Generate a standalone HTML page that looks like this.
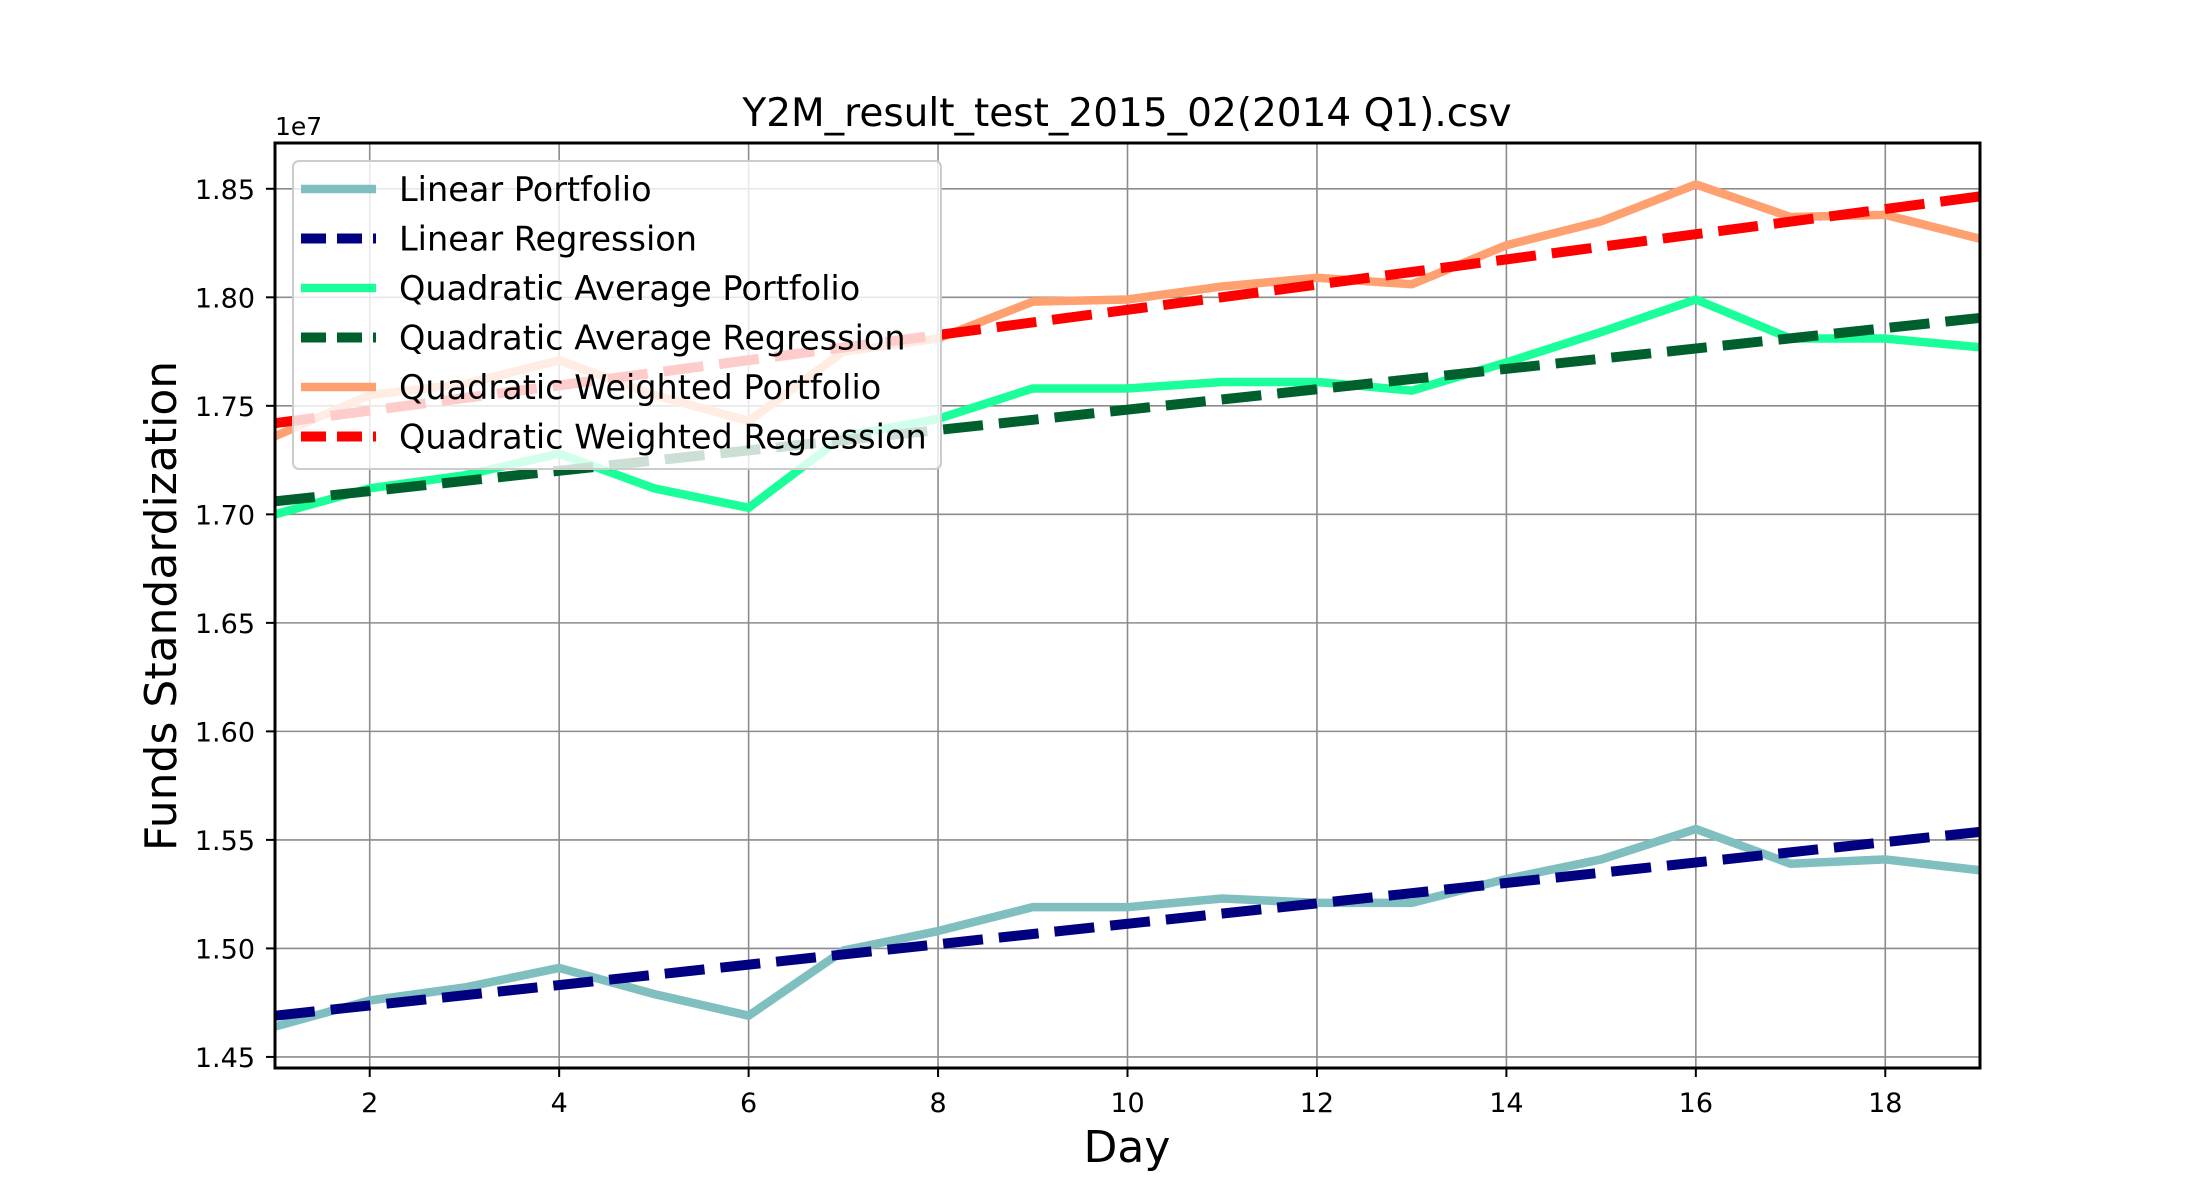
<!DOCTYPE html>
<html><head><meta charset="utf-8"><style>
html,body{margin:0;padding:0;background:#fff;}
svg{display:block;font-family:"DejaVu Sans","Liberation Sans",sans-serif;}
</style></head><body>
<svg id="chart" width="2200" height="1200" viewBox="0 0 2200 1200" xmlns="http://www.w3.org/2000/svg">
<rect width="2200" height="1200" fill="#fff"/>
<g id="grid"></g>
<g id="series"></g>
<g id="axes"></g>
<text x="1127" y="126" font-size="39" text-anchor="middle">Y2M_result_test_2015_02(2014 Q1).csv</text>
<text x="275" y="135" font-size="25">1e7</text>
<text x="1127" y="1162" font-size="44" text-anchor="middle">Day</text>
<text transform="translate(176,606) rotate(-90)" font-size="44" text-anchor="middle">Funds Standardization</text>
<g id="legend"></g>
</svg>
<script>
const days = [1,2,3,4,5,6,7,8,9,10,11,12,13,14,15,16,17,18,19];
const linearPortfolio = [1.464,1.476,1.482,1.491,1.479,1.469,1.499,1.508,1.519,1.519,1.523,1.521,1.521,1.532,1.541,1.555,1.539,1.541,1.536];
const linearRegression = [1.469,1.5537];
const quadAvgPortfolio = [1.700,1.712,1.718,1.728,1.712,1.703,1.736,1.744,1.758,1.758,1.761,1.761,1.757,1.770,1.784,1.799,1.781,1.781,1.777];
const quadAvgRegression = [1.706,1.7905];
const quadWeightedPortfolio = [1.736,1.755,1.760,1.771,1.755,1.743,1.775,1.781,1.798,1.799,1.805,1.809,1.806,1.824,1.835,1.852,1.837,1.838,1.827];
const quadWeightedRegression = [1.742,1.8465];
const xTicks = [2,4,6,8,10,12,14,16,18];
const yTicks = [1.45,1.50,1.55,1.60,1.65,1.70,1.75,1.80,1.85];
const yTickLabels = ["1.45","1.50","1.55","1.60","1.65","1.70","1.75","1.80","1.85"];
const legendLabels = ["Linear Portfolio","Linear Regression","Quadratic Average Portfolio","Quadratic Average Regression","Quadratic Weighted Portfolio","Quadratic Weighted Regression"];

const NS="http://www.w3.org/2000/svg";
const L=275,R=1980,T=143,B=1068;
const X0=1,X1=19,Y0=1.4449,Y1=1.8711;
const xs=v=>L+(v-X0)/(X1-X0)*(R-L);
const ys=v=>B-(v-Y0)/(Y1-Y0)*(B-T);
function mk(tag,attrs,parent){const e=document.createElementNS(NS,tag);for(const k in attrs)e.setAttribute(k,attrs[k]);parent.appendChild(e);return e;}
const grid=document.getElementById('grid'),axes=document.getElementById('axes'),series=document.getElementById('series'),legend=document.getElementById('legend');

xTicks.forEach(t=>{
  const x=xs(t);
  const g=mk('line',{x1:x,x2:x,y1:T,y2:B,stroke:'#8c8c8c','stroke-width':1.6},grid);
  
  
  const tk=mk('line',{x1:x,x2:x,y1:B,y2:B+9,stroke:'#000','stroke-width':2},axes);
  
  
  const tx=mk('text',{x:x,y:B+44,'font-size':27,'text-anchor':'middle'},axes);
  tx.textContent=t;
  
  
});
yTicks.forEach((t,i)=>{
  const y=ys(t);
  const g=mk('line',{x1:L,x2:R,y1:y,y2:y,stroke:'#8c8c8c','stroke-width':1.6},grid);
  
  
  const tk=mk('line',{x1:L-9,x2:L,y1:y,y2:y,stroke:'#000','stroke-width':2},axes);
  
  
  const tx=mk('text',{x:L-20,y:y+10,'font-size':27,'text-anchor':'end'},axes);
  tx.textContent=yTickLabels[i];
  
  
});
const frame=mk('rect',{x:L,y:T,width:R-L,height:B-T,fill:'none',stroke:'#000','stroke-width':3},axes);



const defs=[
 {vals:linearPortfolio,color:'#80bfbf',dash:null,name:'linear-portfolio-line'},
 {vals:linearRegression,color:'#000080',dash:'40 16',name:'linear-regression-line'},
 {vals:quadAvgPortfolio,color:'#1aff99',dash:null,name:'quadratic-average-portfolio-line'},
 {vals:quadAvgRegression,color:'#00602d',dash:'40 16',name:'quadratic-average-regression-line'},
 {vals:quadWeightedPortfolio,color:'#ffa070',dash:null,name:'quadratic-weighted-portfolio-line'},
 {vals:quadWeightedRegression,color:'#ff0000',dash:'40 16',name:'quadratic-weighted-regression-line'}
];
defs.forEach(d=>{
  let pts;
  if(d.vals.length===2){pts=[[xs(days[0]),ys(d.vals[0])],[xs(days[days.length-1]),ys(d.vals[1])]];}
  else pts=d.vals.map((v,i)=>[xs(days[i]),ys(v)]);
  const a={points:pts.map(p=>p.join(',')).join(' '),fill:'none',stroke:d.color,'stroke-width':d.dash?10:8.5,'stroke-linejoin':'round'};
  if(d.dash)a['stroke-dasharray']=d.dash;
  const p=mk('polyline',a,series);
  
  
});

const box=mk('rect',{x:293,y:161,width:648,height:308,rx:6,fill:'#fff','fill-opacity':0.8,stroke:'#ccc','stroke-width':2},legend);


legendLabels.forEach((lab,i)=>{
  const y=189+i*49.5;
  const d=defs[i];
  const a={x1:301,x2:376,y1:y,y2:y,stroke:d.color,'stroke-width':d.dash?10:8.5};
  if(d.dash)a['stroke-dasharray']='25 11';
  const ln=mk('line',a,legend);
  
  
  const tx=mk('text',{x:399,y:y+12,'font-size':33.5},legend);
  tx.textContent=lab;
  
  
});
</script>
</body></html>
